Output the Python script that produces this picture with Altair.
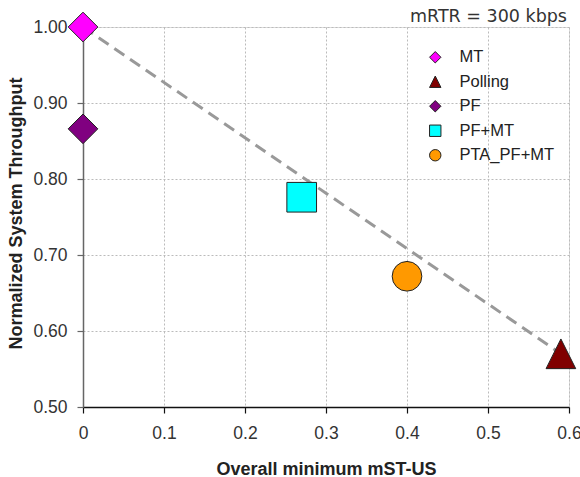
import altair as alt
import pandas as pd

# ---- data ----
series = ["MT", "Polling", "PF", "PF+MT", "PTA_PF+MT"]
x_vals = [0.0, 0.59, 0.0, 0.27, 0.40]
y_vals = [1.00, 0.570, 0.866, 0.776, 0.672]

trend_x = [0.0, 0.59]
trend_y = [1.00, 0.570]

x_ticks = [0, 0.1, 0.2, 0.3, 0.4, 0.5, 0.6]
y_ticks = [0.5, 0.6, 0.7, 0.8, 0.9, 1.0]

annotation = ["mRTR = 300 kbps"]

# ---- styles ----
colors = ["#FF00FF", "#800000", "#800080", "#00FFFF", "#FF9900"]
shapes = ["diamond", "M0,-1L1,1L-1,1Z", "diamond", "square", "circle"]

pts = pd.DataFrame({"series": series, "x": x_vals, "y": y_vals})
trend = pd.DataFrame({"x": trend_x, "y": trend_y})
note = pd.DataFrame({"label": annotation})

FONT = "Liberation Sans"

xscale = alt.Scale(domain=[0, 0.6], nice=False, zero=False)
yscale = alt.Scale(domain=[0.5, 1.0], nice=False, zero=False)

xaxis = alt.Axis(
    values=x_ticks, format=".1~f", title="Overall minimum mST-US",
    grid=True, gridColor="#bbbbbb", gridDash=[2, 2], gridWidth=1,
    domainColor="#111111", domainWidth=1.5, tickColor="#111111", tickSize=6, tickWidth=1.2,
    labelFont=FONT, labelFontSize=17.5, labelColor="#333333", labelPadding=11,
    labelFlush=False, labelOverlap=False,
    titleFont=FONT, titleFontSize=18, titleFontWeight="bold", titleColor="#222222",
    titleBaseline="alphabetic", titleY=67,
)
yaxis = alt.Axis(
    values=y_ticks, format=".2f", title="Normalized System Throughput",
    grid=True, gridColor="#bbbbbb", gridDash=[2, 2], gridWidth=1,
    domainColor="#666666", domainWidth=1.5, tickColor="#666666", tickSize=6, tickWidth=1.2,
    labelFont=FONT, labelFontSize=17.5, labelColor="#333333", labelPadding=10,
    labelFlush=False, labelOverlap=False,
    titleFont=FONT, titleFontSize=18, titleFontWeight="bold", titleColor="#222222",
    titleBaseline="alphabetic", titleX=-62, titleY=186, titleAngle=-90,
)

line = alt.Chart(trend).mark_line(
    color="#999999", strokeWidth=3, strokeDash=[12, 7]
).encode(
    x=alt.X("x:Q", scale=xscale, axis=xaxis),
    y=alt.Y("y:Q", scale=yscale, axis=yaxis),
)

points = alt.Chart(pts).mark_point(
    filled=True, opacity=1, stroke="#222222", strokeWidth=1, size=880
).encode(
    x=alt.X("x:Q", scale=xscale),
    y=alt.Y("y:Q", scale=yscale),
    color=alt.Color(
        "series:N",
        scale=alt.Scale(domain=series, range=colors),
        legend=alt.Legend(
            title=None, orient="none", legendX=344, legendY=22,
            labelFont=FONT, labelFontSize=16.5, labelColor="#222222",
            symbolSize=130, symbolStrokeColor="#222222", symbolStrokeWidth=1,
            labelOffset=16, rowPadding=7.5, padding=0,
        ),
    ),
    shape=alt.Shape(
        "series:N",
        scale=alt.Scale(domain=series, range=shapes),
    ),
)

text = alt.Chart(note).mark_text(
    align="right", baseline="alphabetic", font="DejaVu Sans", fontSize=17.5, color="#333333"
).encode(
    text="label:N",
    x=alt.value(484),
    y=alt.value(-5),
)

chart = alt.layer(line, points, text).properties(
    width=486, height=380,
    autosize=alt.AutoSizeParams(type="none"),
    padding={"left": 83, "top": 27, "right": 11, "bottom": 70},
).configure_view(stroke=None).configure(background="white")

chart.save("out.html", embed_options={"renderer": "svg", "actions": False})
